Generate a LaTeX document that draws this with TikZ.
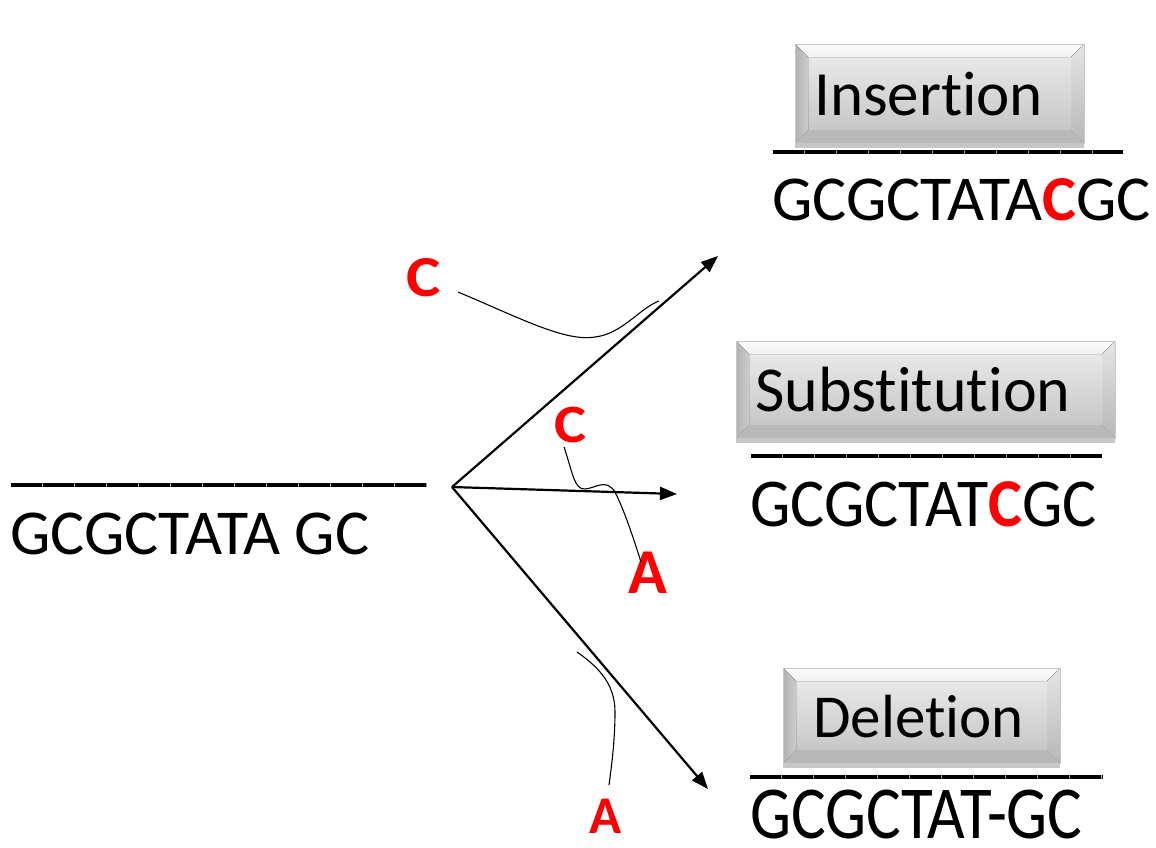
\documentclass[tikz,border=0pt]{standalone}
\usepackage{fontspec}
\setmainfont{Carlito}[Ligatures=NoCommon]
\usetikzlibrary{arrows.meta,calc,shadows}

\newcommand{\seqsize}[1]{\fontsize{#1}{#1}\selectfont}

\tikzset{
  seq/.style={inner sep=0pt, anchor=base west},
  mut/.style={inner sep=0pt, anchor=base, text=red},
  rulebase/.style={line width=4pt, black!40},
  rule/.style={line width=4pt, dash pattern=on 31pt off 1pt},
  branch/.style={line width=2.2pt, -{Triangle[length=17pt,width=13pt]}},
  strand/.style={line width=1.1pt},
  bevelbox/.style={inner sep=0pt, draw=black!22, line width=0.8pt,
    drop shadow={shadow xshift=0pt, shadow yshift=-5pt, opacity=0.22, fill=black},
    path picture={
      \def\bv{13pt}
      \path (path picture bounding box.south west) coordinate (pSW)
            (path picture bounding box.north east) coordinate (pNE)
            (path picture bounding box.north west) coordinate (pNW)
            (path picture bounding box.south east) coordinate (pSE);
      \path ($(pSW)+(\bv,\bv)$) coordinate (qSW)
            ($(pNE)+(-\bv,-\bv)$) coordinate (qNE)
            ($(pNW)+(\bv,-\bv)$) coordinate (qNW)
            ($(pSE)+(-\bv,\bv)$) coordinate (qSE);
      \fill[top color=black!9, bottom color=black!22] (qSW) rectangle (qNE);
      \fill[top color=black!1, bottom color=black!6] (pNW) -- (pNE) -- (qNE) -- (qNW) -- cycle;
      \fill[left color=black!30, right color=black!20] (pNW) -- (qNW) -- (qSW) -- (pSW) -- cycle;
      \fill[top color=black!10, bottom color=black!28] (pNE) -- (pSE) -- (qSE) -- (qNE) -- cycle;
      \fill[black!28] (pSW) -- (qSW) -- (qSE) -- (pSE) -- cycle;
    }},
  boxlabel/.style={inner sep=0pt, anchor=base west},
}

\begin{document}
\begin{tikzpicture}[x=1pt,y=-1pt]
\useasboundingbox (0,0) rectangle (1156,847);

% original strand
\coordinate (origL) at (11,485);
\coordinate (origR) at (427,485);
\draw[rulebase] (origL) -- (origR);
\draw[rule] (origL) -- (origR);
\node[seq, font=\seqsize{64}] (orig) at (10,554) {GCGCTATA GC};

% branching point and arrow targets
\coordinate (O) at (452,487);
\coordinate (tIns) at (718,256);
\coordinate (tSub) at (677,494);
\coordinate (tDel) at (708,789);
\draw[branch] (O) -- (tIns);
\draw[branch] (O) -- (tSub);
\draw[branch] (O) -- (tDel);

% insertion
\node[bevelbox, minimum width=289pt, minimum height=99pt] (insbox) at (939.5,93.5) {};
\node[boxlabel, font=\seqsize{63}] (instxt) at (814,115) {Insertion};
\coordinate (insL) at (773,152);
\coordinate (insR) at (1123,152);
\draw[rulebase] (insL) -- (insR);
\draw[rule] (insL) -- (insR);
\node[seq, font=\seqsize{64}] (insseq) at (772,220) {GCGCTATA\textcolor{red}{\bfseries C}GC};

% substitution
\node[bevelbox, minimum width=379pt, minimum height=97pt] (subbox) at (925.5,389.5) {};
\node[boxlabel, font=\seqsize{64}] (subtxt) at (755,411) {Substitution};
\coordinate (subL) at (751,456);
\coordinate (subR) at (1102,456);
\draw[rulebase] (subL) -- (subR);
\draw[rule] (subL) -- (subR);
\node[seq, font=\seqsize{64}] (subseq) at (750,526) {\scalebox{1}[1.07]{GCGCTAT\textcolor{red}{\bfseries C}GC}};

% deletion
\node[bevelbox, minimum width=277pt, minimum height=95pt] (delbox) at (921.5,715.5) {};
\node[boxlabel, font=\seqsize{61}] (deltxt) at (813,737) {Deletion};
\coordinate (delL) at (750,777);
\coordinate (delR) at (1103,777);
\draw[rulebase] (delL) -- (delR);
\draw[rule] (delL) -- (delR);
\node[seq, font=\seqsize{65}] (delseq) at (750,838) {\scalebox{1}[1.15]{GCGCTAT-GC}};

% mutating bases
\node[mut, font=\seqsize{58}\bfseries] (c1) at (424,296) {\scalebox{1.12}[1]{C}};
\node[mut, font=\seqsize{54}\bfseries] (c2) at (570,442) {\scalebox{1.12}[1]{C}};
\node[mut, font=\seqsize{64}\bfseries] (a1) at (648,593) {A};
\node[mut, font=\seqsize{53}\bfseries] (a2) at (605.5,833) {A};

% base strands
\draw[strand] (458,292) .. controls (520,318) and (565,342) .. (595,337)
  .. controls (622,334) and (640,308) .. (659,301);
\draw[strand] (564,447) .. controls (572,470) and (574,490) .. (585,489)
  .. controls (596,488) and (606,478) .. (615,492)
  .. controls (625,512) and (634,540) .. (641,562);
\draw[strand] (577,652) .. controls (600,668) and (615,685) .. (615,712)
  .. controls (615,742) and (611,770) .. (609,785);
\end{tikzpicture}
\end{document}
